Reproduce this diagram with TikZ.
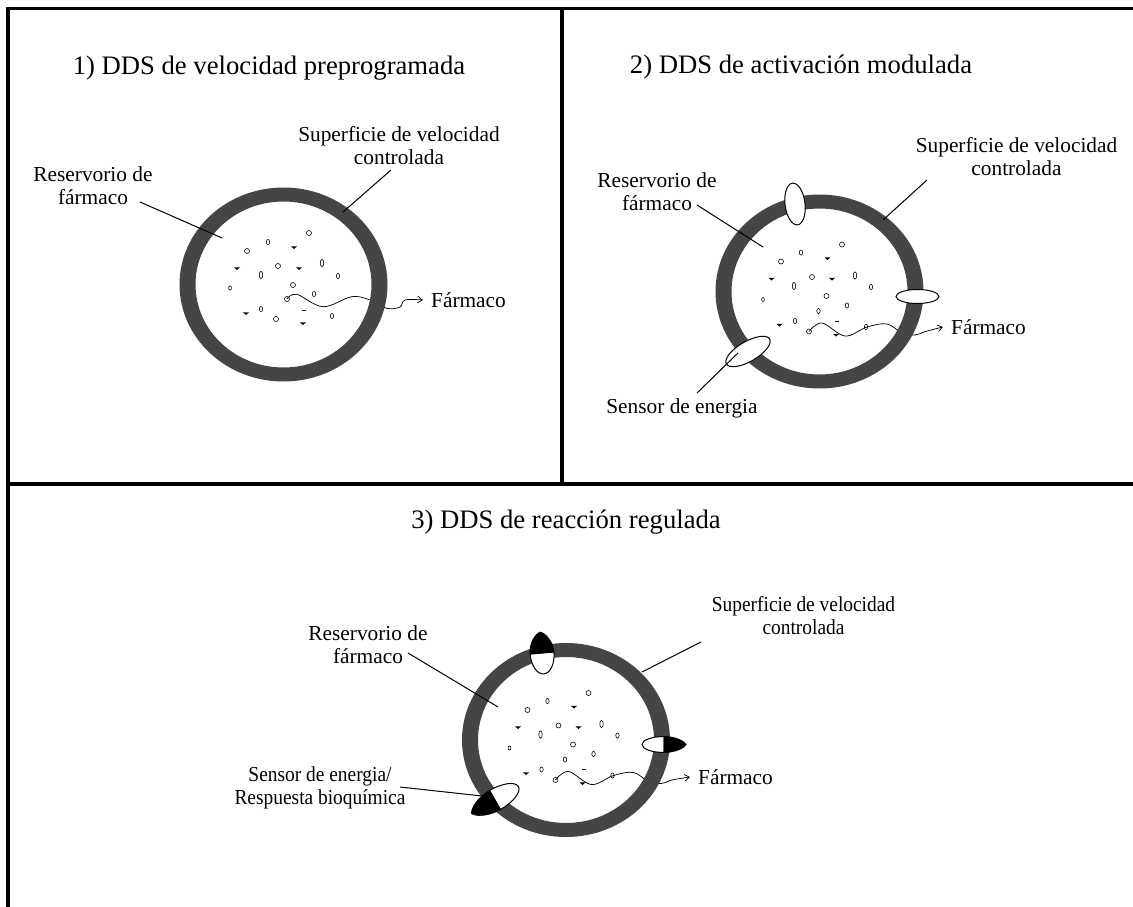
\documentclass[tikz,border=0pt]{standalone}
\usepackage{fontspec}
\usepackage{graphicx}
\setmainfont{Liberation Serif}
\usetikzlibrary{arrows.meta}
\definecolor{ringgray}{HTML}{454545}

\tikzset{
  framerule/.style={line width=2.4pt},
  paneltitle/.style={font=\fontsize{20}{24}\selectfont, inner sep=0pt},
  lbl/.style={font=\fontsize{16}{17.25}\selectfont, align=center, inner sep=0pt},
  druglbl/.style={font=\fontsize{16}{17.25}\selectfont, inner ysep=0pt, inner xsep=6pt},
  leader/.style={line width=0.75pt},
  wave/.style={line width=0.55pt, -{Straight Barb[length=3.5pt,width=5pt]}},
  ringfill/.style={fill=ringgray, even odd rule},
  gatefill/.style={draw=black, fill=white, line width=0.75pt},
  pline/.style={line width=0.45pt},
  % drug particles
  pics/pc/.style={code={\draw[pline] (0,0) circle[radius=2.5];}},
  pics/pz/.style={code={\draw[pline] (0,0) ellipse[x radius=1.7, y radius=3.6];}},
  pics/pd/.style={code={\draw[pline] (0,0) ellipse[x radius=1.7, y radius=2.6];}},
  pics/ps/.style={code={\draw[pline] (0,0) ellipse[x radius=1.4, y radius=2];}},
  pics/pt/.style={code={\fill (-3,-0.6) -- (3,-0.6) -- (0,2) -- cycle;}},
  pics/pm/.style={code={\draw[pline] (-2,0) -- (2,0);}},
  % rate-controlling wall
  pics/ring/.style={code={\fill[ringfill] (0,0) ellipse[x radius=104, y radius=97]
      (0,0) ellipse[x radius=88, y radius=83];}},
  % plain gate on the wall
  pics/gate/.style n args={2}{code={\draw[gatefill] (0,0) ellipse[x radius=#1, y radius=#2];}},
  % sensor: white inner half, black pointed outer half (outer side = +x)
  pics/sensor/.style n args={2}{code={
      \draw[gatefill] (0,-#2) arc[start angle=-90, end angle=-270, x radius=#1, y radius=#2] -- cycle;
      \filldraw[line width=0.6pt] (0,#2) .. controls (0.55*#1,#2) and (0.95*#1,0.35*#2) .. (#1,0)
        .. controls (0.95*#1,-0.35*#2) and (0.55*#1,-#2) .. (0,-#2) -- cycle;}},
  % particle field shared by panels 2 and 3
  pics/drugsB/.style={code={
      \foreach \q in {(22.5,-47),(-38.5,-30),(-7.5,-14.5),(7,4.5)} \path \q pic{pc};
      \foreach \q in {(35.5,-16),(-25.5,-5.5)} \path \q pic{pz};
      \foreach \q in {(-18.5,-39),(51.5,-4.5),(27.5,14),(-1,19.5),(-24.5,29.5),(46.5,35.5)} \path \q pic{pd};
      \path (-56.5,8) pic{ps};
      \foreach \q in {(8,-33.5),(-48,-13),(12.5,-13),(-40,33),(16.5,43)} \path \q pic{pt};
      \path (17.5,29.5) pic{pm};}}
}

\begin{document}
\begin{tikzpicture}[x=0.75pt, y=-0.75pt]
\useasboundingbox (0,0) rectangle (1133,907);
\fill[white] (0,0) rectangle (1133,907);

% panel frame
\draw[framerule] (7,8.5) -- (1133,8.5);
\draw[framerule] (8,7) -- (8,907);
\draw[framerule] (562,8.5) -- (562,484);
\draw[framerule] (7,484) -- (1133,484);

% titles
\node[paneltitle] (t1) at (269,68) {1) DDS de velocidad preprogramada};
\node[paneltitle] (t2) at (801,67) {2) DDS de activación modulada};
\node[paneltitle] (t3) at (566,522) {3) DDS de reacción regulada};

% ---------- panel 1 ----------
\begin{scope}[shift={(283.5,284.5)}]
  \foreach \q in {(25.5,-51.5),(-36.5,-33.5),(-5.5,-18.5),(9.5,0.5),(-7.5,34.5)} \path \q pic{pc};
  \foreach \q in {(38.5,-21.5),(-22.5,-9.5)} \path \q pic{pz};
  \foreach \q in {(-15.5,-42.5),(54.5,-8.5),(30.5,9.5),(-22.5,24.5),(48.5,31.5)} \path \q pic{pd};
  \path (-53.5,3.5) pic{ps};
  \foreach \q in {(10.5,-37.5),(-46.5,-16.5),(15.5,-16.5),(-37.5,28.5),(19.5,38.5)} \path \q pic{pt};
  \path (20.5,25.5) pic{pm};
  \coordinate (w1) at (3.5,14.5);
  \path (w1) pic{pc};
  \node[druglbl] (f1) at (185,15.5) {Fármaco};
  \draw[wave] plot[smooth, tension=0.6] coordinates {(w1) (13.2,9.8) (39.5,22.2) (68.2,12.2)
      (86.5,15.5) (103.2,23.8) (116.5,22.5) (121.5,15.5) (f1.west)};
  \pic {ring};
  \node[lbl] (r1) at (-190.5,-98.5) {Reservorio de\\fármaco};
  \coordinate (r1a) at (-143.5,-82.5);
  \coordinate (r1b) at (-61.5,-46.5);
  \draw[leader] (r1a) -- (r1b);
  \node[lbl] (s1) at (115.5,-139) {Superficie de velocidad\\controlada};
  \coordinate (s1a) at (107.5,-114.5);
  \coordinate (s1b) at (59.5,-72.5);
  \draw[leader] (s1a) -- (s1b);
\end{scope}

% ---------- panel 2 ----------
\begin{scope}[shift={(819.5,291.5)}]
  \pic {drugsB};
  \coordinate (w2) at (-10.5,40);
  \path (w2) pic{pc};
  \node[druglbl] (f2) at (169,35.5) {Fármaco};
  \draw[wave] plot[smooth, tension=0.6] coordinates {(w2) (2.5,31.5) (25.5,44.5) (47.5,35.5)
      (67.5,32.5) (82.5,41.5) (95.5,43.5) (106,40) (f2.west)};
  \pic {ring};
  \pic[rotate=7] at (-24.5,-87.5) {gate={10}{21}};
  \pic at (98,5) {gate={21.5}{7}};
  \pic[rotate=30] at (-71.5,60) {gate={25}{10}};
  \node[lbl] (r2) at (-162.5,-100) {Reservorio de\\fármaco};
  \coordinate (r2a) at (-122.5,-86.5);
  \coordinate (r2b) at (-56.5,-44.5);
  \draw[leader] (r2a) -- (r2b);
  \node[lbl] (s2) at (197,-135) {Superficie de velocidad\\controlada};
  \coordinate (s2a) at (107.5,-111.5);
  \coordinate (s2b) at (63.5,-71.5);
  \draw[leader] (s2a) -- (s2b);
  \node[lbl] (e2) at (-137.5,116.5) {Sensor de energia};
  \coordinate (e2a) at (-81.5,61.5);
  \coordinate (e2b) at (-122.5,101.5);
  \draw[leader] (e2a) -- (e2b);
\end{scope}

% ---------- panel 3 ----------
\begin{scope}[shift={(566,740)}]
  \pic {drugsB};
  \coordinate (w3) at (-10.5,40);
  \path (w3) pic{pc};
  \node[druglbl] (f3) at (169.5,37) {Fármaco};
  \draw[wave] plot[smooth, tension=0.6] coordinates {(w3) (2.5,31.5) (25.5,44.5) (47.5,35.5)
      (67.5,32.5) (82.5,41.5) (95.5,43.5) (106,40) (f3.west)};
  \pic {ring};
  \pic[rotate=95] at (-24,-87) {sensor={21}{12}};
  \pic at (98,4.5) {sensor={22}{8}};
  \pic[rotate=210] at (-71,60) {sensor={27}{11}};
  \node[lbl] (r3) at (-198,-95) {Reservorio de\\fármaco};
  \coordinate (r3a) at (-158,-87);
  \coordinate (r3b) at (-68,-33);
  \draw[leader] (r3a) -- (r3b);
  \node[lbl] (s3) at (237.5,-121.5) {\scalebox{0.91}[1]{\begin{tabular}{@{}c@{}}Superficie de velocidad\\controlada\end{tabular}}};
  \coordinate (s3a) at (135,-98);
  \coordinate (s3b) at (76,-68);
  \draw[leader] (s3a) -- (s3b);
  \node[lbl] (e3) at (-246,48) {\scalebox{0.91}[1]{\begin{tabular}{@{}c@{}}Sensor de energia/\\Respuesta bioquímica\end{tabular}}};
  \coordinate (e3a) at (-166,47);
  \coordinate (e3b) at (-84,56);
  \draw[leader] (e3a) -- (e3b);
\end{scope}
\end{tikzpicture}
\end{document}
